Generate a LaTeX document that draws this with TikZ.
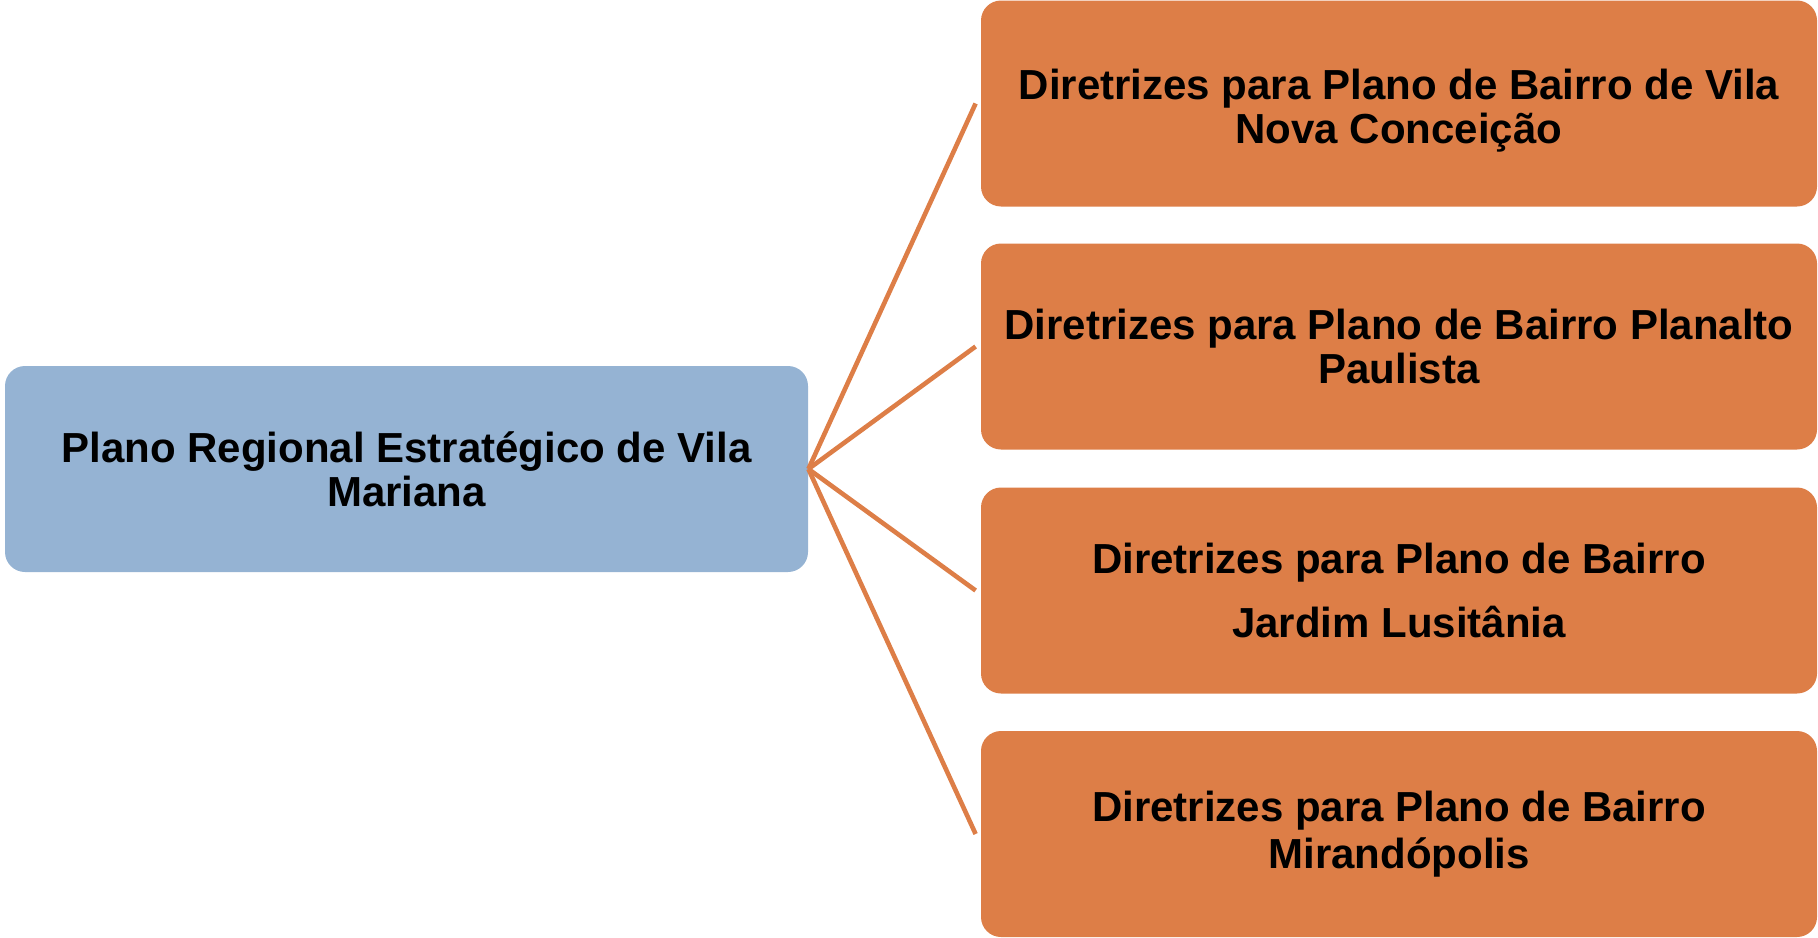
\documentclass[tikz,border=0pt]{standalone}
\usepackage{fontspec}
\setmainfont{Liberation Sans}
\definecolor{boxblue}{HTML}{95B3D3}
\definecolor{boxorange}{HTML}{DD7E47}
\definecolor{lineorange}{HTML}{DD7E47}
\begin{document}
\begin{tikzpicture}[x=0.5pt,y=-0.5pt,
  box/.style={rounded corners=10pt, inner sep=0pt, align=center,
    font=\fontsize{21pt}{22pt}\selectfont\bfseries, text=black},
  leftbox/.style={box, fill=boxblue, minimum width=401.5pt, minimum height=103pt},
  rightbox/.style={box, fill=boxorange, minimum width=418pt, minimum height=103pt},
  link/.style={draw=lineorange, line width=2.3pt}]
\useasboundingbox (0,0) rectangle (1818,937);
\node[leftbox] (L) at (406.5,469) {Plano Regional Estratégico de Vila\\Mariana};
\node[rightbox] (R1) at (1399,103.5) {\rule{0pt}{22pt}Diretrizes para Plano de Bairro de Vila\\Nova Conceição};
\node[rightbox] (R2) at (1399,346.5) {Diretrizes para Plano de Bairro Planalto\\Paulista};
\node[rightbox] (R3) at (1399,590.5) {Diretrizes para Plano de Bairro\\[10pt]Jardim Lusitânia};
\node[rightbox] (R4) at (1399,834) {Diretrizes para Plano de Bairro\\[1.5pt]Mirandópolis};
\foreach \i in {1,2,3,4} {
  \coordinate (e\i) at ([xshift=-2.5pt]R\i.west);
  \draw[link] (L.east) -- (e\i);
}
\end{tikzpicture}
\end{document}
